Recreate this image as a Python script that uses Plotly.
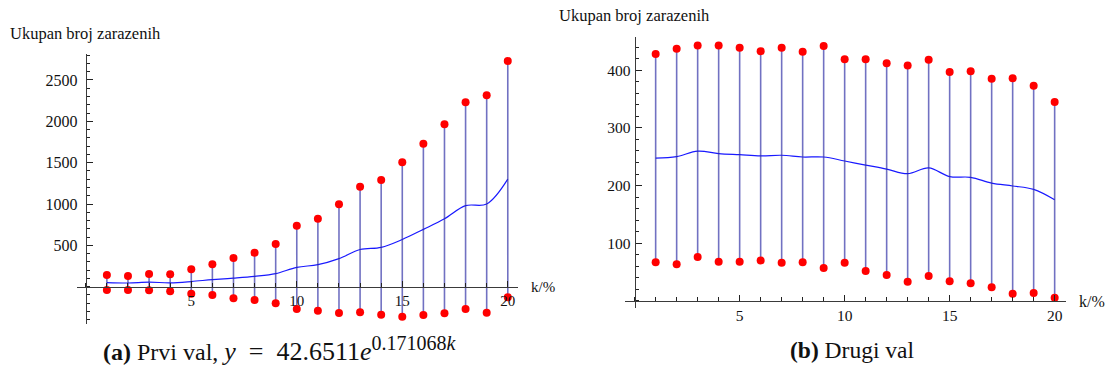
import plotly.graph_objects as go

# k values (percent)
k = list(range(1, 21))

# First wave: upper and lower bounds of the total number infected
wave1_upper = [141, 129, 153, 150, 210, 271, 347, 411, 516, 738,
               822, 996, 1209, 1290, 1504, 1729, 1964, 2230, 2314, 2729]
wave1_lower = [-40, -40, -44, -56, -85, -100, -140, -161, -200, -270,
               -290, -318, -310, -338, -362, -342, -322, -270, -314, -128]

# Second wave
wave2_upper = [428, 437, 443, 443, 439, 433, 439, 432, 442, 419,
               419, 412, 408, 418, 397, 398, 385, 386, 373, 345]
wave2_lower = [67, 63.5, 76, 68, 68, 70, 66, 67, 57, 66,
               52, 45, 33, 43, 34, 30.5, 23.5, 12.5, 13.5, 5.5]

wave1_yticks = [500, 1000, 1500, 2000, 2500]
wave2_yticks = [100, 200, 300, 400]
xticks = [5, 10, 15, 20]

W, H = 1110, 374
SERIF = "Liberation Serif, Times New Roman, serif"

# panel boxes in pixels: (left, right, top, bottom) and data ranges
panels = [
    dict(px=(76.7, 517.7), py=(54, 324), xr=(-0.43, 20.47), yr=(-451, 2814),
         up=wave1_upper, lo=wave1_lower, yt=wave1_yticks, ydt=100,
         yfs=16, xfs=15, standoff=5),
    dict(px=(625, 1066), py=(37.3, 308), xr=(-0.46, 20.54), yr=(-12.3, 457),
         up=wave2_upper, lo=wave2_lower, yt=wave2_yticks, ydt=20,
         yfs=15.5, xfs=15.5, standoff=1),
]

fig = go.Figure()
layout = {}
for i, p in enumerate(panels, start=1):
    xa = "x" if i == 1 else f"x{i}"
    ya = "y" if i == 1 else f"y{i}"
    dx = (p["px"][0] / W, p["px"][1] / W)
    dy = ((H - p["py"][1]) / H, (H - p["py"][0]) / H)
    # paper positions of the crossing axes (x = 0, y = 0)
    x0p = dx[0] + (0 - p["xr"][0]) / (p["xr"][1] - p["xr"][0]) * (dx[1] - dx[0])
    y0p = dy[0] + (0 - p["yr"][0]) / (p["yr"][1] - p["yr"][0]) * (dy[1] - dy[0])

    mid = [(u + l) / 2 for u, l in zip(p["up"], p["lo"])]
    bx, by = [], []
    for kk, u, l in zip(k, p["up"], p["lo"]):
        bx += [kk, kk, None]
        by += [l, u, None]

    fig.add_trace(go.Scatter(x=k, y=mid, mode="lines", line_shape="spline",
                             line=dict(color="rgb(25,25,255)", width=1.2),
                             xaxis=xa, yaxis=ya, hoverinfo="skip"))
    fig.add_trace(go.Scatter(x=bx, y=by, mode="lines",
                             line=dict(color="rgba(45,45,165,0.68)", width=1.6),
                             xaxis=xa, yaxis=ya, hoverinfo="skip"))
    fig.add_trace(go.Scatter(x=k + k, y=p["up"] + p["lo"], mode="markers",
                             marker=dict(color="#ff0000", size=8),
                             xaxis=xa, yaxis=ya))

    axis_common = dict(showgrid=False, zeroline=False, showline=True,
                       linecolor="#3a3a3a", linewidth=1, ticks="inside",
                       tickcolor="#222", tickwidth=1, ticklen=6)
    layout["xaxis" if i == 1 else f"xaxis{i}"] = dict(
        axis_common, domain=list(dx), range=list(p["xr"]), anchor="free",
        position=y0p, tickmode="array", tickvals=xticks,
        tickfont=dict(family=SERIF, size=p["xfs"], color="#111"),
        minor=dict(ticks="inside", dtick=1, tick0=0, ticklen=3.5,
                   tickcolor="#222", showgrid=False))
    layout["yaxis" if i == 1 else f"yaxis{i}"] = dict(
        axis_common, domain=list(dy), range=list(p["yr"]), anchor="free",
        position=x0p, tickmode="array", tickvals=p["yt"],
        ticklabelstandoff=p["standoff"],
        tickfont=dict(family=SERIF, size=p["yfs"], color="#111"),
        minor=dict(ticks="inside", dtick=p["ydt"], tick0=0, ticklen=3.5,
                   tickcolor="#222", showgrid=False))

def ann(text, x, y, size, xanchor="left"):
    return dict(text=text, x=x / W, y=1 - y / H, xref="paper", yref="paper",
                xanchor=xanchor, yanchor="middle", showarrow=False,
                font=dict(family=SERIF, size=size, color="#111"))

fit_eq = ("<span style=\"font-size:26px\"><i>y</i>\u2002=\u200242.6511<i>e</i></span>"
          "<sup><span style=\"font-size:20px\">0.171068<i>k</i></span></sup>")

annotations = [
    ann("Ukupan broj zarazenih", 8, 33, 16.5),
    ann("Ukupan broj zarazenih", 557, 16, 16.5),
    ann("k/%", 529, 287, 15),
    ann("k/%", 1077, 301, 16),
    ann("<b>(a)</b> Prvi val, " + fit_eq, 280, 349, 24, "center"),
    ann("<b>(b)</b> Drugi val", 852, 350, 23.5, "center"),
]

fig.update_layout(width=W, height=H, margin=dict(l=0, r=0, t=0, b=0),
                  paper_bgcolor="white", plot_bgcolor="white",
                  showlegend=False, annotations=annotations, **layout)

fig.write_html("out.html")
